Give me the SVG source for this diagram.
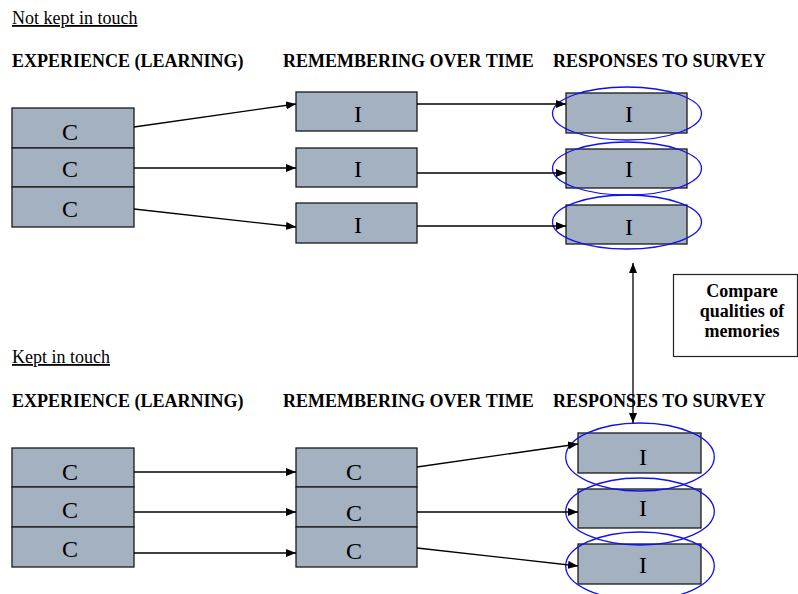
<svg xmlns="http://www.w3.org/2000/svg" width="798" height="594" viewBox="0 0 798 594">
<defs>
<marker id="ah" viewBox="0 0 10 8" refX="10" refY="4" markerWidth="10" markerHeight="8" markerUnits="userSpaceOnUse" orient="auto-start-reverse"><path d="M0,0 L10,4 L0,8 Z" fill="#000"/></marker>
<style>
.box{fill:#A3B1C0;stroke:#1a1a1a;stroke-width:1.3}
.lbl{font-family:"Liberation Serif","Times New Roman",serif;font-size:24px;fill:#000;text-anchor:middle}
.hdr{font-family:"Liberation Serif","Times New Roman",serif;font-size:18px;font-weight:bold;fill:#000}
.sec{font-family:"Liberation Serif","Times New Roman",serif;font-size:18px;fill:#000;text-decoration:underline}
.ell{fill:none;stroke:#1010F0;stroke-width:1.3}
.con{stroke:#000;stroke-width:1.3;fill:none;marker-end:url(#ah)}
</style>
</defs>
<rect width="798" height="594" fill="#fff"/>
<g id="titles">
<text class="sec" x="12" y="24">Not kept in touch</text>
<text class="hdr" x="12" y="67">EXPERIENCE (LEARNING)</text>
<text class="hdr" x="283" y="67">REMEMBERING OVER TIME</text>
<text class="hdr" x="553" y="67">RESPONSES TO SURVEY</text>
<text class="sec" x="12" y="363">Kept in touch</text>
<text class="hdr" x="12" y="407">EXPERIENCE (LEARNING)</text>
<text class="hdr" x="283" y="407">REMEMBERING OVER TIME</text>
<text class="hdr" x="553" y="407">RESPONSES TO SURVEY</text>
</g>
<g id="top-exp">
<rect class="box" x="12" y="108" width="122" height="40"/><text class="lbl" x="70" y="140">C</text>
<rect class="box" x="12" y="148" width="122" height="39"/><text class="lbl" x="70" y="177">C</text>
<rect class="box" x="12" y="187" width="122" height="40"/><text class="lbl" x="70" y="217">C</text>
</g>
<g id="top-rem">
<rect class="box" x="296" y="92" width="121" height="39"/><text class="lbl" x="358" y="122">I</text>
<rect class="box" x="296" y="148" width="121" height="39"/><text class="lbl" x="358" y="177">I</text>
<rect class="box" x="296" y="203" width="121" height="40"/><text class="lbl" x="358" y="233">I</text>
</g>
<g id="top-resp">
<rect class="box" x="566" y="93" width="121" height="40"/><text class="lbl" x="629" y="122">I</text>
<rect class="box" x="566" y="149" width="121" height="39"/><text class="lbl" x="629" y="177">I</text>
<rect class="box" x="566" y="205" width="121" height="39"/><text class="lbl" x="629" y="235">I</text>
<ellipse class="ell" cx="627" cy="113.5" rx="74.5" ry="26.5"/>
<ellipse class="ell" cx="627" cy="168.5" rx="74.5" ry="26.5"/>
<ellipse class="ell" cx="627" cy="222" rx="74.5" ry="27"/>
</g>
<g id="compare">
<rect x="673.5" y="274.5" width="124" height="82" fill="#fff" stroke="#222" stroke-width="1.2"/>
<text class="hdr" x="742" y="297" text-anchor="middle">Compare</text>
<text class="hdr" x="742" y="317" text-anchor="middle">qualities of</text>
<text class="hdr" x="742" y="337" text-anchor="middle">memories</text>
</g>
<g id="bot-exp">
<rect class="box" x="12" y="448" width="122" height="39"/><text class="lbl" x="70" y="480">C</text>
<rect class="box" x="12" y="487" width="122" height="40"/><text class="lbl" x="70" y="518">C</text>
<rect class="box" x="12" y="527" width="122" height="40"/><text class="lbl" x="70" y="557">C</text>
</g>
<g id="bot-rem">
<rect class="box" x="296" y="448" width="121" height="39"/><text class="lbl" x="354" y="480">C</text>
<rect class="box" x="296" y="487" width="121" height="40"/><text class="lbl" x="354" y="521">C</text>
<rect class="box" x="296" y="527" width="121" height="40"/><text class="lbl" x="354" y="559">C</text>
</g>
<g id="bot-resp">
<rect class="box" x="578" y="433" width="123" height="40"/><text class="lbl" x="643" y="465">I</text>
<rect class="box" x="578" y="489" width="123" height="39"/><text class="lbl" x="643" y="516">I</text>
<rect class="box" x="578" y="544" width="123" height="40"/><text class="lbl" x="643" y="573">I</text>
<ellipse class="ell" cx="640" cy="457" rx="74.3" ry="34"/>
<ellipse class="ell" cx="640" cy="511.5" rx="74.3" ry="33.5"/>
<ellipse class="ell" cx="640" cy="566" rx="74.3" ry="34"/>
</g>
<g id="connectors">
<line class="con" x1="134" y1="127" x2="296" y2="104"/>
<line class="con" x1="134" y1="168" x2="296" y2="168"/>
<line class="con" x1="134" y1="209" x2="296" y2="227"/>
<line class="con" x1="417" y1="104" x2="566" y2="104"/>
<line class="con" x1="417" y1="173" x2="566" y2="173"/>
<line class="con" x1="417" y1="226" x2="566" y2="226"/>
<line class="con" x1="633" y1="263" x2="633" y2="423" marker-start="url(#ah)"/>
<line class="con" x1="134" y1="472" x2="296" y2="472"/>
<line class="con" x1="134" y1="512" x2="296" y2="512"/>
<line class="con" x1="134" y1="553" x2="296" y2="553"/>
<line class="con" x1="417" y1="467" x2="578" y2="444"/>
<line class="con" x1="417" y1="512" x2="578" y2="512"/>
<line class="con" x1="417" y1="548" x2="578" y2="566"/>
</g>
</svg>
